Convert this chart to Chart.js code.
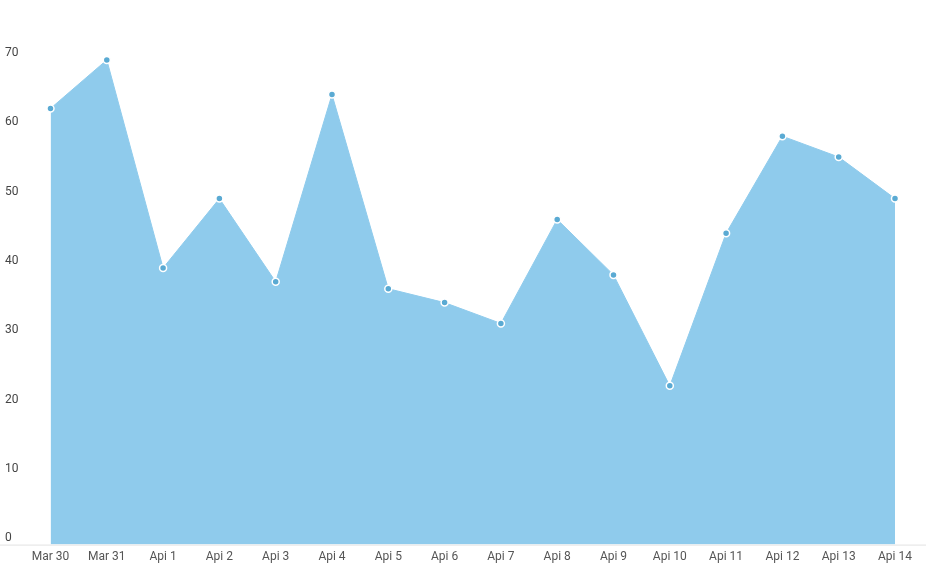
<!DOCTYPE html>
<html>
<head>
<meta charset="utf-8">
<script src="https://cdn.jsdelivr.net/npm/chart.js@4/dist/chart.umd.min.js"></script>
<style>
  html, body { margin: 0; padding: 0; background: #fff; }
  #wrap { width: 931px; height: 580px; }
</style>
</head>
<body>
<div id="wrap"><canvas id="chart" width="931" height="580"></canvas></div>
<script>
// categories and values
var labels = ['Mar 30', 'Mar 31', 'Api 1', 'Api 2', 'Api 3', 'Api 4', 'Api 5', 'Api 6',
              'Api 7', 'Api 8', 'Api 9', 'Api 10', 'Api 11', 'Api 12', 'Api 13', 'Api 14'];
var values = [62, 69, 39, 49, 37, 64, 36, 34, 31, 46, 38, 22, 44, 58, 55, 49];
var yTicks = [0, 10, 20, 30, 40, 50, 60, 70];

// light base line under the plot, a bit wider than the plot area
var baseLine = {
    id: 'baseLine',
    beforeDatasetsDraw: function(chart) {
        var ctx = chart.ctx;
        var y = chart.chartArea.bottom + 0.5;
        ctx.save();
        ctx.strokeStyle = '#e2e2e2';
        ctx.lineWidth = 1;
        ctx.beginPath();
        ctx.moveTo(0, y);
        ctx.lineTo(926, y);
        ctx.stroke();
        ctx.restore();
    }
};

new Chart(document.getElementById('chart'), {
    type: 'line',
    data: {
        labels: labels,
        datasets: [{
            data: values,
            fill: 'start',
            backgroundColor: '#8fcbec',
            borderColor: '#8fcbec',
            borderWidth: 1,
            tension: 0,
            pointRadius: 3.5,
            pointBorderWidth: 1.5,
            pointBackgroundColor: '#5aaad3',
            pointBorderColor: '#ffffff'
        }]
    },
    options: {
        responsive: false,
        animation: false,
        layout: { padding: { top: 53, right: 36, bottom: 11, left: 5 } },
        plugins: {
            legend: { display: false },
            tooltip: { enabled: false }
        },
        scales: {
            x: {
                offset: false,
                grid: { display: false, drawTicks: false },
                border: { display: false },
                ticks: {
                    color: '#555',
                    padding: 5,
                    maxRotation: 0,
                    autoSkip: false,
                    font: { family: 'Roboto', size: 12 }
                }
            },
            y: {
                min: -0.9,
                max: 70,
                grid: { display: false, drawTicks: false },
                border: { display: false },
                afterBuildTicks: function(scale) {
                    scale.ticks = yTicks.map(function(v) { return { value: v }; });
                },
                ticks: {
                    color: '#444',
                    padding: 16,
                    crossAlign: 'far',
                    font: { family: 'Roboto', size: 12 }
                }
            }
        }
    },
    plugins: [baseLine]
});
</script>
</body>
</html>
